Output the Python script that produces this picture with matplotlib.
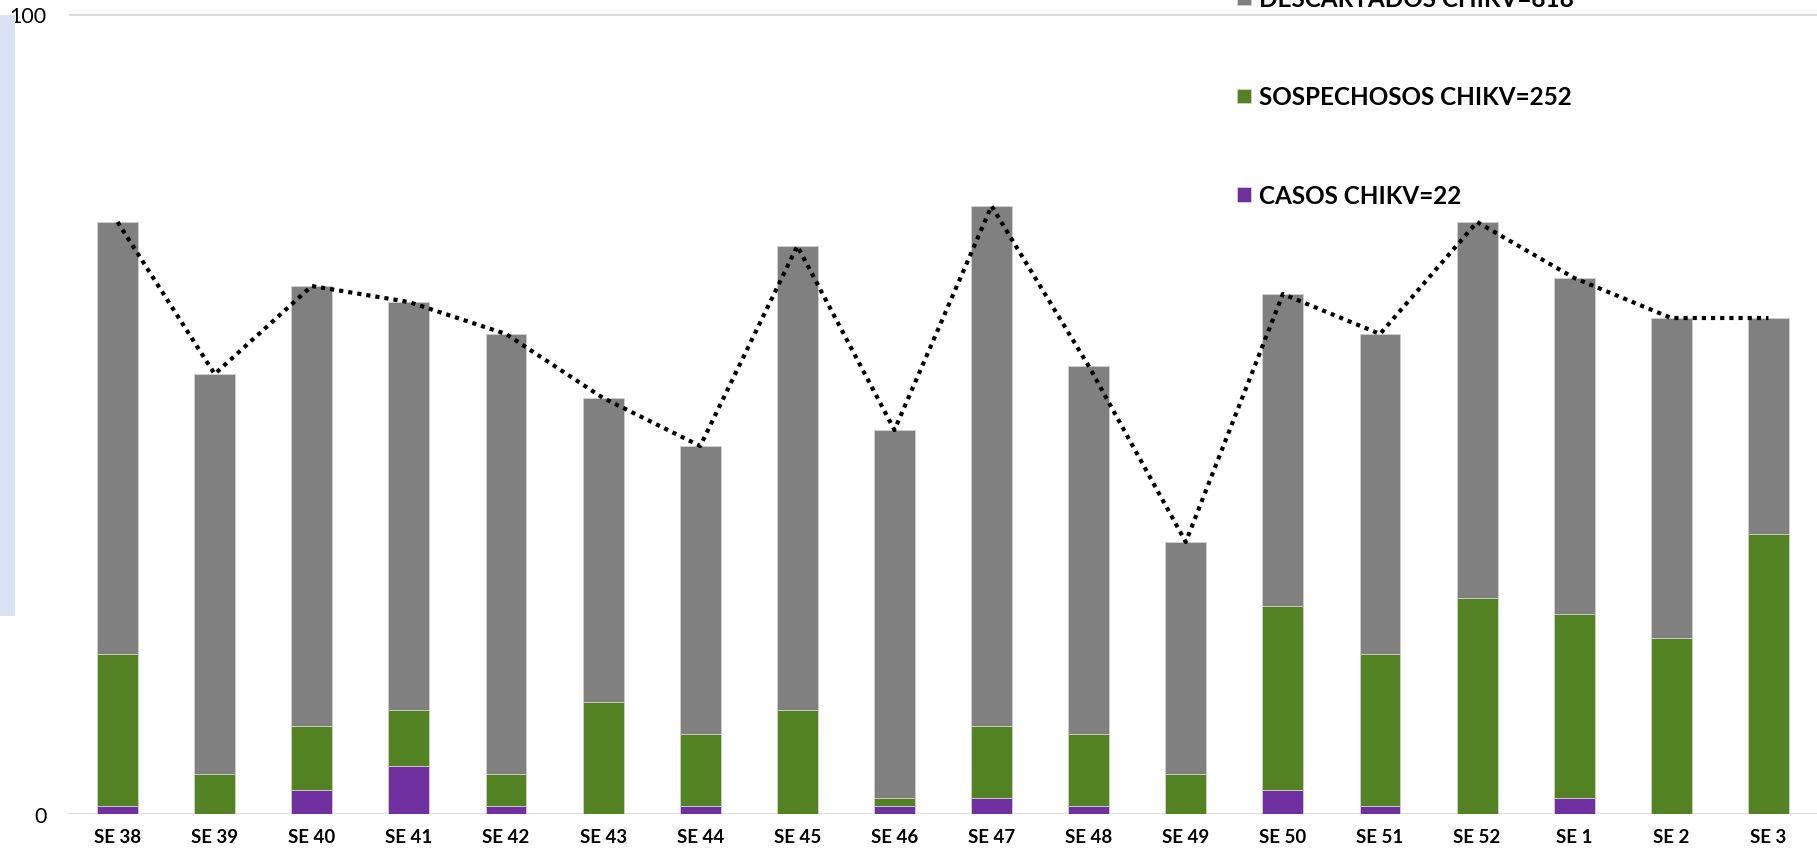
"""Stacked bar chart of CHIKV cases per epidemiological week."""

import matplotlib

matplotlib.use("Agg")
import matplotlib.pyplot as plt
from matplotlib.patches import Rectangle

WEEKS = [
    "SE 38", "SE 39", "SE 40", "SE 41", "SE 42", "SE 43", "SE 44", "SE 45", "SE 46",
    "SE 47", "SE 48", "SE 49", "SE 50", "SE 51", "SE 52", "SE 1", "SE 2", "SE 3",
]
CASOS = [1, 0, 3, 6, 1, 0, 1, 0, 1, 2, 1, 0, 3, 1, 0, 2, 0, 0]
SOSPECHOSOS = [19, 5, 8, 7, 4, 14, 9, 13, 1, 9, 9, 5, 23, 19, 27, 23, 22, 35]
DESCARTADOS = [54, 50, 55, 51, 55, 38, 36, 58, 46, 65, 46, 29, 39, 40, 47, 42, 40, 27]

LABEL_CASOS = "CASOS CHIKV=22"
LABEL_SOSP = "SOSPECHOSOS CHIKV=252"
LABEL_DESC = "DESCARTADOS CHIKV=818"

PURPLE = "#7030A0"
GREEN = "#538222"
GRAY = "#808080"

plt.rcParams["font.family"] = ["Lato", "DejaVu Sans"]

fig = plt.figure(figsize=(18.17, 8.53), dpi=100)
ax = fig.add_axes([69 / 1817, 38 / 853, (1817 - 69) / 1817, 800 / 853])

x = list(range(len(WEEKS)))
width = 0.42
bottom_sosp = CASOS
bottom_desc = [c + s for c, s in zip(CASOS, SOSPECHOSOS)]
totals = [b + d for b, d in zip(bottom_desc, DESCARTADOS)]

ax.bar(x, DESCARTADOS, width, bottom=bottom_desc, color=GRAY,
       edgecolor="#d0d0d0", linewidth=0.6, label=LABEL_DESC, zorder=3)
ax.bar(x, SOSPECHOSOS, width, bottom=bottom_sosp, color=GREEN,
       edgecolor="#d0d0d0", linewidth=0.6, label=LABEL_SOSP, zorder=3)
ax.bar(x, CASOS, width, color=PURPLE,
       edgecolor="#d0d0d0", linewidth=0.6, label=LABEL_CASOS, zorder=3)
ax.plot(x, totals, color="black", linestyle=(0, (1, 1.2)), linewidth=3, zorder=4)

ax.set_xlim(-0.5, 17.5)
ax.set_ylim(0, 100)
ax.set_yticks([0, 100])
ax.set_xticks(x)
ax.set_xticklabels(WEEKS, fontsize=13.5, fontweight="bold")
ax.tick_params(axis="x", length=0, pad=10)
ax.tick_params(axis="y", length=0, labelsize=15.5, pad=16)
ax.grid(axis="y", color="#d9d9d9", linewidth=2, zorder=0)
for side in ax.spines.values():
    side.set_visible(False)

ax.legend(
    loc="upper left",
    bbox_to_anchor=(1225 / 1817, (853 + 24) / 853),
    bbox_transform=fig.transFigure,
    frameon=False,
    prop={"size": 17.5, "weight": "bold"},
    handlelength=0.55,
    handleheight=0.55,
    handletextpad=0.35,
    labelspacing=3.1,
    borderpad=0,
)

fig.patches.append(
    Rectangle((0, 1 - 617 / 853), 15 / 1817, (617 - 16) / 853,
              transform=fig.transFigure, facecolor="#dae3f3", edgecolor="none")
)

fig.savefig("out.png", dpi=100)
